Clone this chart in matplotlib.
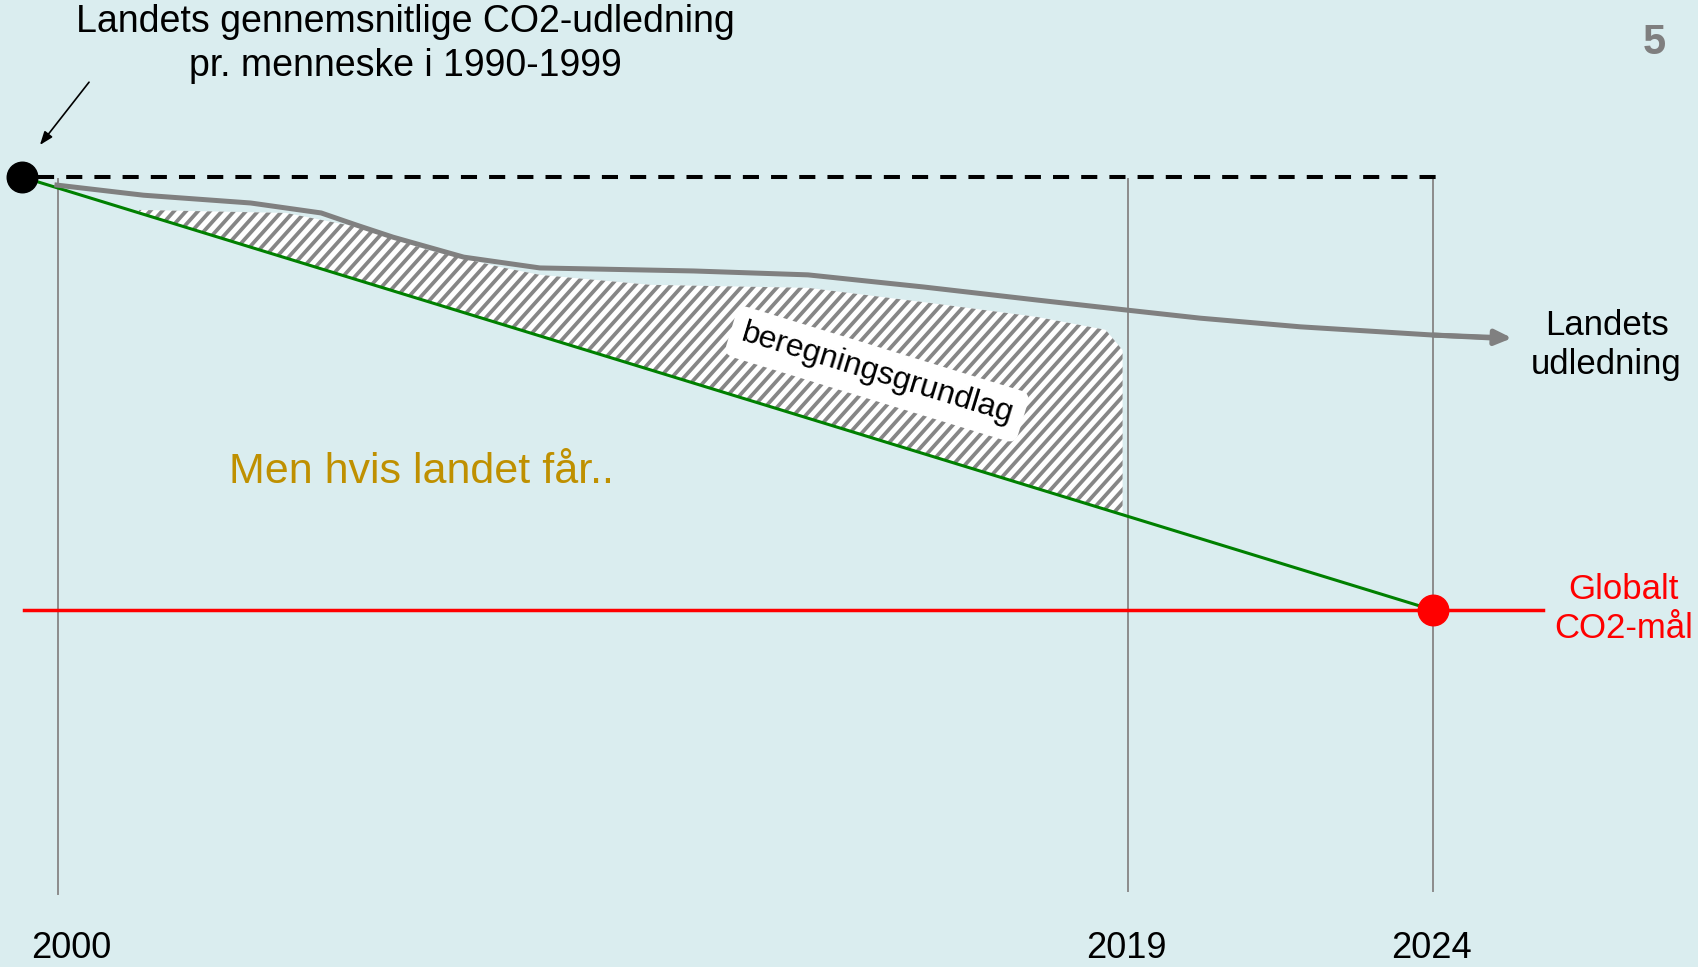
import matplotlib.pyplot as plt
from matplotlib.patches import Polygon
import numpy as np

plt.rcParams['font.family'] = ['Liberation Sans', 'DejaVu Sans']

# skitse-enheder: x = 0 ved startpunktet, 100 ved målåret
# y = 100 er niveauet 1990-1999, 0 er det globale CO2-mål
udledning_x = [2.3, 8.6, 16.2, 21.2, 23.7, 26.3, 28.8, 31.3, 36.7, 47.6, 55.7,
               63.9, 71.9, 78.2, 83.5, 90.6, 100.0, 104.3]
udledning_y = [98.2, 95.8, 94.0, 91.7, 88.9, 86.1, 83.8, 81.5, 79.0, 78.3, 77.4,
               74.6, 71.6, 69.3, 67.4, 65.4, 63.5, 62.8]

grundlag_x = [8.3, 18.7, 23.7, 28.8, 33.9, 36.7, 44.5, 55.7, 63.9, 71.9, 76.8, 78.0]
grundlag_top = [92.4, 91.7, 88.5, 83.1, 79.2, 77.4, 75.1, 74.4, 71.1, 67.7, 64.7, 60.0]

start = (0, 100)
maal = (100, 0)

aar = ['2000', '2019', '2024']
aar_x = [2.55, 78.4, 100.0]
aar_tekst_x = [3.5, 78.3, 99.9]

bg = '#daedef'
fig = plt.figure(figsize=(16.98, 9.67), dpi=100, facecolor=bg)
ax = fig.add_axes([0, 0, 1, 1])
ax.set_facecolor(bg)
ax.set_xlim(-1.56, 118.78)
ax.set_ylim(-82.45, 140.88)
ax.axis('off')

# lodrette årslinjer
for i, x in enumerate(aar_x):
    bund = -65.5 if i == 0 else -64.9
    ax.plot([x, x], [99.5, bund], color='#8c8c8c', lw=1.4, zorder=1)
    ax.text(aar_tekst_x[i], -78.1, aar[i], fontsize=26, ha='center', va='center')

# beregningsgrundlag (skraveret)
gx = np.array(grundlag_x)
linje = np.interp(gx, [start[0], maal[0]], [start[1], maal[1]])
omrids = np.vstack([np.column_stack([gx, grundlag_top]),
                    np.column_stack([gx[::-1], linje[::-1]])])
flade = Polygon(omrids, closed=True, fc='white', ec='none', zorder=2)
ax.add_patch(flade)
# skraveringslinjer ca. 48 grader på skærmen
haeld = np.tan(np.radians(48)) * 14.11 / 4.33
for c in np.arange(-10, 95, 0.85):
    xs = np.array([c - 25, c + 25])
    ln, = ax.plot(xs, 60 + haeld * (xs - c), color='#868686', lw=2.7,
                  solid_capstyle='butt', zorder=2.5)
    ln.set_clip_path(flade)

ax.text(60.6, 54.5, 'beregningsgrundlag', fontsize=23, rotation=-17,
        rotation_mode='anchor', ha='center', va='center', zorder=5,
        bbox=dict(boxstyle='round,pad=0.35,rounding_size=0.3', fc='white', ec='none'))

# stiplet niveau-linje
ax.plot([1.13, 100.9], [start[1], start[1]], color='black', lw=2.9,
        ls=(0, (4.0, 3.0)), zorder=3)

# globalt mål
ax.plot([0.14, 107.8], [maal[1], maal[1]], color='#ff0000', lw=2.5, zorder=3)

# grøn reduktionssti
ax.plot([start[0], maal[0]], [start[1], maal[1]], color='#008000', lw=2.2, zorder=4)

# landets udledning
ax.plot(udledning_x, udledning_y, color='#808080', lw=3.6, zorder=4,
        solid_capstyle='butt', solid_joinstyle='round')
ax.annotate('', xy=(105.6, udledning_y[-1]), xytext=(udledning_x[-2], udledning_y[-2]),
            arrowprops=dict(arrowstyle='-|>,head_length=1.0,head_width=0.45',
                            color='#808080', lw=3.6, shrinkA=0, shrinkB=0), zorder=4)

# punkter
ax.plot(*start, 'o', color='black', ms=22, zorder=6)
ax.plot(*maal, 'o', color='#ff0000', ms=22, zorder=6)

# tekster
ax.text(27.2, 130.7, 'Landets gennemsnitlige CO2-udledning\npr. menneske i 1990-1999',
        fontsize=27, ha='center', va='center', linespacing=1.3)
ax.annotate('', xy=(1.27, 107.4), xytext=(4.75, 121.9),
            arrowprops=dict(arrowstyle='-|>,head_length=0.8,head_width=0.3',
                            color='black', lw=1.2, shrinkA=0, shrinkB=0))
ax.text(28.3, 31.9, 'Men hvis landet får..', fontsize=31, color='#bf9000',
        ha='center', va='center')
ax.text(112.3, 61.2, 'Landets\nudledning', fontsize=25, ha='center', va='center',
        linespacing=1.2)
ax.text(113.5, 0.2, 'Globalt\nCO2-mål', fontsize=25, color='#ff0000', ha='center',
        va='center', linespacing=1.25)
ax.text(115.7, 130.9, '5', fontsize=30, fontweight='bold', color='#7f7f7f',
        ha='center', va='center')

fig.savefig('out.png', dpi=100, facecolor=bg)
